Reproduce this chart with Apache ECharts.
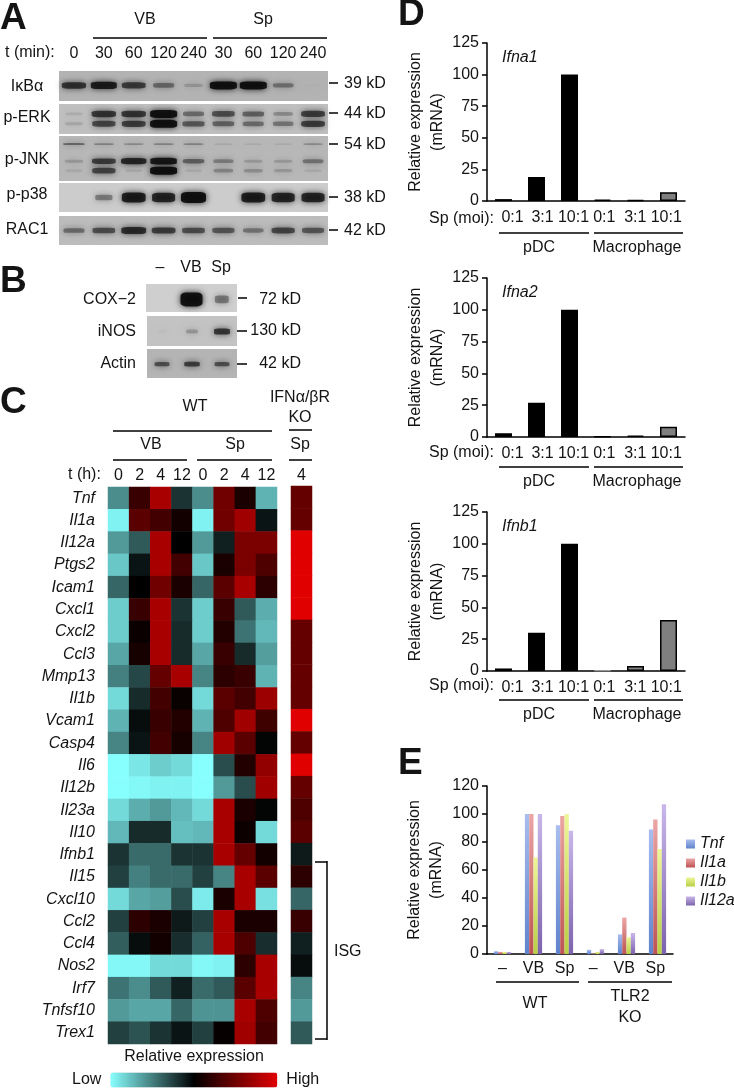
<!DOCTYPE html>
<html><head><meta charset="utf-8">
<style>html,body{margin:0;padding:0;background:#fff}#c{width:734px;height:1089px}</style>
<script src="https://cdn.jsdelivr.net/npm/echarts@6/dist/echarts.min.js"></script>
</head><body><div id="c"></div>
<script>
// ---------- Panel A : band intensities (0-1) by lane
const lanesA = ['0','30','60','120','240','30','60','120','240'];
const ikba    = [.75,.9,.7,.45,.2,1,1,.4,.02];
const erkUp   = [.12,.75,.75,1,.45,.6,.5,.3,.7];
const erkLow  = [.15,.65,.7,1,.55,.5,.45,.4,.7];
const jnkTop  = [.5,.35,.3,.35,.35,.15,.12,.12,.3];
const jnkMid  = [.2,.7,.85,.95,.5,.35,.2,.2,.4];
const jnkLow  = [.1,.65,.1,1,.1,.3,.25,.2,.1];
const p38     = [0,.4,.9,.85,1,0,.9,.85,.85];
const rac1    = [.45,.6,.8,.7,.6,.55,.4,.65,.55];
// ---------- Panel B
const lanesB = ['–','VB','Sp'];
const cox2  = [0,1,.42];
const inos  = [.03,.25,.75];
const actin = [.6,.7,.6];
// ---------- Panel C
const heatTimes = ['0','2','4','12','0','2','4','12'];
const koTimes = ['4'];
const genes = ['Tnf','Il1a','Il12a','Ptgs2','Icam1','Cxcl1','Cxcl2','Ccl3','Mmp13','Il1b','Vcam1','Casp4','Il6','Il12b','Il23a','Il10','Ifnb1','Il15','Cxcl10','Ccl2','Ccl4','Nos2','Irf7','Tnfsf10','Trex1'];
const wtValues = [
[-.55,.25,.75,-.2,-.55,.5,.12,-.7],
[-.95,.4,.3,.08,-.95,.5,.72,-.08],
[-.6,-.35,.75,0,-.6,-.12,.55,.55],
[-.78,-.08,.75,.3,-.78,.12,.55,.35],
[-.4,0,.5,.12,-.4,.4,.75,.2],
[-.8,.25,.75,-.2,-.8,.25,-.35,-.68],
[-.8,.05,.75,-.17,-.8,.15,-.45,-.72],
[-.65,.1,.75,-.17,-.65,.25,-.17,-.62],
[-.5,-.28,.45,.75,-.52,.2,.25,-.7],
[-.85,-.17,.3,.04,-.85,.4,.3,.7],
[-.7,-.05,.25,.15,-.7,.35,.72,.28],
[-.52,-.08,.3,.1,-.52,.72,.4,-.02],
[-1,-.9,-.8,-.85,-1,-.3,.15,.65],
[-1,-.97,-.95,-.95,-1,-.6,-.3,.72],
[-.85,-.68,-.6,-.72,-.85,.75,.12,-.02],
[-.72,-.17,-.17,-.75,-.72,.75,.06,-.85],
[-.2,-.42,-.42,-.2,-.2,.75,.45,.08],
[-.25,-.5,-.42,-.42,-.25,-.52,.75,.4],
[-.85,-.65,-.62,-.3,-.92,.12,.75,-.88],
[-.25,.2,.12,-.1,-.25,.75,.12,.12],
[-.37,-.05,.08,-.18,-.38,.75,.35,-.18],
[-.97,-.97,-.85,-.85,-.97,-.95,.2,.75],
[-.45,-.55,-.35,-.12,-.42,-.35,.4,.75],
[-.6,-.65,-.65,-.4,-.58,-.58,.75,.35],
[-.25,-.32,-.2,-.08,-.25,.03,.72,.3]];
const koValues = [.45,.45,1,1,1,1,.45,.45,.45,.45,1,.45,1,.45,.35,.4,-.1,.2,-.4,.25,-.12,-.05,-.52,-.6,-.35];
// ---------- Panel D
const moiCats = ['0:1','3:1','10:1','0:1 ','3:1 ','10:1 '];
const ifna1 = [1.5,19,100,1,.8,7];
const ifna2 = [3,27,100,.3,1,8];
const ifnb1 = [2,30,100,.5,4,40];
const moiTicks = [0,25,50,75,100,125];
// ---------- Panel E
const stimCats = ['–','VB','Sp','– ','VB ','Sp '];
const tnf   = [2,100,92,3,14,89];
const il1a  = [1.5,100,98.5,.5,26,96];
const il1b  = [1.5,69,100,1.5,12,75];
const il12a = [1.5,100,88,3.5,15,107];

const FF = '"Liberation Sans",Arial,sans-serif';
const INK = '#141414';
const grid=[], xAxis=[], yAxis=[], series=[], graphic=[];

function T(text,x,y,o){o=o||{};graphic.push({type:'text',silent:true,z:50,style:{text,x,y,fill:INK,
  font:`${o.italic?'italic ':''}${o.bold?'bold ':''}${o.size||16}px ${FF}`,align:o.align||'center',verticalAlign:'middle'}});}
function L(x1,y1,x2,y2,w){graphic.push({type:'line',silent:true,z:50,shape:{x1,y1,x2,y2},style:{stroke:'#000',lineWidth:w||1.5}});}

function addGrid(g,x,y){const i=grid.length;grid.push(Object.assign({containLabel:false},g));
  xAxis.push(Object.assign({gridIndex:i},x));yAxis.push(Object.assign({gridIndex:i},y));return i;}

// ---- blots
function blot(box,bg,lanes,bands,topLabels){
  const i=addGrid({left:box[0],top:box[1],width:box[2]-box[0],height:box[3]-box[1],show:true,backgroundColor:bg,borderWidth:0},
    topLabels?{type:'category',data:lanes,position:'top',axisLine:{show:false},axisTick:{show:false},
      axisLabel:{color:INK,fontSize:16,fontFamily:FF,margin:topLabels,interval:0}}
      :{type:'category',data:lanes,show:false},
    {type:'value',min:0,max:1,show:false,inverse:true});
  bands.forEach(b=>{
    series.push({type:'scatter',xAxisIndex:i,yAxisIndex:i,silent:true,symbol:'roundRect',
      data:b.v.map((v,k)=>({value:[k,b.y],symbolSize:[b.w[0]+b.w[1]*v,b.h[0]+b.h[1]*v],
        itemStyle:{opacity:Math.min(1,Math.pow(v,1.1)*.92)}})).filter((d,k)=>b.v[k]>0),
      itemStyle:{color:'#0a0a0a',shadowBlur:6,shadowColor:'rgba(0,0,0,.9)'}});
  });
}
const wA=[16,11];
blot([59,71,328,101],'#b3b3b3',lanesA,[{v:ikba,y:.48,w:wA,h:[2,6]}],9);
blot([59,104,328,134],'#c0c0c0',lanesA,[{v:erkUp,y:.33,w:wA,h:[2,6]},{v:erkLow,y:.66,w:wA,h:[2,6]}]);
blot([59,136,328,181],'#b8b8b8',lanesA,[{v:jnkTop,y:.18,w:wA,h:[1,2]},{v:jnkMid,y:.56,w:wA,h:[2,5]},{v:jnkLow,y:.77,w:wA,h:[2,6]}]);
blot([59,183,328,212],'#cccccc',lanesA,[{v:p38,y:.5,w:[12,13],h:[2,9]}]);
blot([59,216,328,245],'#bcbcbc',lanesA,[{v:rac1,y:.5,w:wA,h:[2,6]}]);
blot([146,284,237,312],'#cfcfcf',lanesB,[{v:cox2,y:.55,w:[8,14],h:[3,11]}]);
blot([147,316,237,346],'#c3c3c3',lanesB,[{v:inos,y:.52,w:[10,8],h:[3,4]}]);
blot([147,349,237,378],'#b4b4b4',lanesB,[{v:actin,y:.52,w:[10,8],h:[2,4]}]);

// ---- heatmap
const hmW=addGrid({left:108,top:487,width:169,height:557},
  {type:'category',data:heatTimes,position:'top',axisLine:{show:false},axisTick:{show:false},
    axisLabel:{color:INK,fontSize:16,fontFamily:FF,margin:3,interval:0}},
  {type:'category',data:genes,inverse:true,axisLine:{show:false},axisTick:{show:false},
    axisLabel:{color:INK,fontSize:16,fontFamily:FF,fontStyle:'italic',margin:13,interval:0}});
const hmK=addGrid({left:291,top:486,width:21,height:558},
  {type:'category',data:koTimes,position:'top',axisLine:{show:false},axisTick:{show:false},
    axisLabel:{color:INK,fontSize:16,fontFamily:FF,margin:2,interval:0}},
  {type:'category',data:genes,inverse:true,show:false});
const hmIdx=[series.length,series.length+1];
series.push({type:'heatmap',xAxisIndex:hmW,yAxisIndex:hmW,silent:true,
  data:wtValues.flatMap((r,j)=>r.map((v,i)=>[i,j,v]))});
series.push({type:'heatmap',xAxisIndex:hmK,yAxisIndex:hmK,silent:true,
  data:koValues.map((v,j)=>[0,j,v])});

// ---- D bars
function moiChart(top,bottom,vals,faint){
  const i=addGrid({left:487,top,width:198,height:bottom-top},
   {type:'category',data:moiCats.map((c,k)=>({value:c,textStyle:{padding:[0,0,0,[18,12,8,8,4,0][k]]}})),
    axisLine:{lineStyle:{color:'#000',width:1.5}},axisTick:{show:false},
    axisLabel:{color:INK,fontSize:16,fontFamily:FF,margin:9,interval:0}},
   {type:'value',min:moiTicks[0],max:moiTicks[5],interval:25,splitLine:{show:false},
    axisLine:{show:true,lineStyle:{color:'#000',width:1.5}},
    axisTick:{show:true,length:5,lineStyle:{color:'#000',width:1.5}},
    axisLabel:{color:INK,fontSize:16,fontFamily:FF,margin:8},
    name:'Relative expression\n(mRNA)',nameLocation:'middle',nameGap:33,nameRotate:90,
    nameTextStyle:{color:INK,fontSize:16,fontFamily:FF,lineHeight:22}});
  series.push({type:'bar',xAxisIndex:i,yAxisIndex:i,silent:true,barWidth:17,
    data:vals.map((v,k)=>({value:v,itemStyle:{color:k<3?'#000':'#7f7f7f',
      borderColor:(faint&&k===3)?'#9a9a9a':'#000',borderWidth:(faint&&k===3)?1:1.5}}))});
}
moiChart(43,201,ifna1);
moiChart(278,437,ifna2);
moiChart(512,671,ifnb1,true);

// ---- E bars
const gr=(a,b)=>({type:'linear',x:0,y:0,x2:0,y2:1,colorStops:[{offset:0,color:a},{offset:1,color:b}]});
const iE=addGrid({left:487,top:786,width:186,height:168},
 {type:'category',data:stimCats,axisLine:{lineStyle:{color:'#000',width:1.5}},axisTick:{show:false},
  axisLabel:{color:INK,fontSize:16,fontFamily:FF,margin:7,interval:0}},
 {type:'value',min:0,max:120,interval:20,splitLine:{show:false},
  axisLine:{show:true,lineStyle:{color:'#000',width:1.5}},
  axisTick:{show:true,length:5,lineStyle:{color:'#000',width:1.5}},
  axisLabel:{color:INK,fontSize:16,fontFamily:FF,margin:8},
  name:'Relative expression\n(mRNA)',nameLocation:'middle',nameGap:39,nameRotate:90,
  nameTextStyle:{color:INK,fontSize:16,fontFamily:FF,lineHeight:22}});
[['Tnf',tnf,'#a9bdee','#5f83cc'],['Il1a',il1a,'#eba5a5','#bd5353'],['Il1b',il1b,'#eef59a','#b9cf45'],['Il12a',il12a,'#c8b7ea','#7d62ad']]
 .forEach(s=>series.push({type:'bar',name:s[0],xAxisIndex:iE,yAxisIndex:iE,silent:true,barWidth:4.3,barGap:0,
   data:s[1],itemStyle:{color:gr(s[2],s[3])}}));

// ---- annotations
[['A',0,19],['B',0,282],['C',0,403],['D',398,15],['E',398,764]].forEach(a=>T(a[0],a[1],a[2],{size:37,bold:true,align:'left'}));
// panel A
T('VB',145,20);T('Sp',263,20);L(93,38,207,38);L(213,38,327,38);
T('t (min):',5,53,{align:'left'});
[['IκBα',87],['p-ERK',118],['p-JNK',160],['p-p38',195],['RAC1',230]].forEach(r=>T(r[0],27,r[1]));
[['39 kD',83],['44 kD',113],['54 kD',144],['38 kD',197],['42 kD',230]].forEach(r=>{L(329,r[1],338,r[1]);T(r[0],344,r[1]+1,{align:'left'});});
// panel B
T('–',160,268);T('VB',191,268);T('Sp',221,268);
[['COX−2',300],['iNOS',332],['Actin',364]].forEach(r=>T(r[0],136,r[1],{align:'right'}));
L(238,298,247,298);L(237,331,247,331);L(237,364,247,364);
T('72 kD',301,300,{align:'right'});T('130 kD',301,331,{align:'right'});T('42 kD',301,364,{align:'right'});
// panel C
T('WT',195,407);L(113,431,272,431);
T('IFNα/βR',300,398);T('KO',300,418);L(289,430,312,430);
T('VB',151,445);L(113,460,187,460);T('Sp',235,445);L(197,460,272,460);T('Sp',300,445);L(289,460,312,460);
T('t (h):',68,475,{align:'left'});
T('Relative expression',194,1057);
L(315,862,327,862);L(327,861,327,1040);L(315,1039,327,1039);T('ISG',334,952,{align:'left'});
// panel D
[['Ifna1',58,219,233,247.5],['Ifna2',293,453,467,482],['Ifnb1',527,686,700,715]].forEach(r=>{
  T(r[0],502,r[1],{italic:true,align:'left'});
  T('Sp (moi):',429,r[2],{align:'left'});
  L(499,r[3],589,r[3]);L(594,r[3],683,r[3]);
  T('pDC',539,r[4]);T('Macrophage',637,r[4]);
});
// panel E
L(496,982,579,982);L(588,982,672,982);T('WT',535,1004);T('TLR2',630,997);T('KO',630,1018);

const chart=echarts.init(document.getElementById('c'),null,{renderer:'canvas'});
chart.setOption({animation:false,backgroundColor:'#fff',textStyle:{fontFamily:FF},
  grid,xAxis,yAxis,series,graphic,
  legend:{show:true,orient:'vertical',left:686,top:836,padding:0,itemWidth:9,itemHeight:9,itemGap:3,selectedMode:false,
    icon:'rect',data:['Tnf','Il1a','Il1b','Il12a'],textStyle:{color:INK,fontSize:16,fontStyle:'italic',fontFamily:FF}},
  visualMap:{type:'continuous',seriesIndex:hmIdx,min:-1,max:1,orient:'horizontal',calculable:false,padding:0,
    left:72,top:1072,itemWidth:15,itemHeight:167,text:['High','Low'],textGap:9,
    textStyle:{color:INK,fontSize:16,fontFamily:FF},
    inRange:{color:['#88ffff','#000000','#e00000']}}
});
</script></body></html>
